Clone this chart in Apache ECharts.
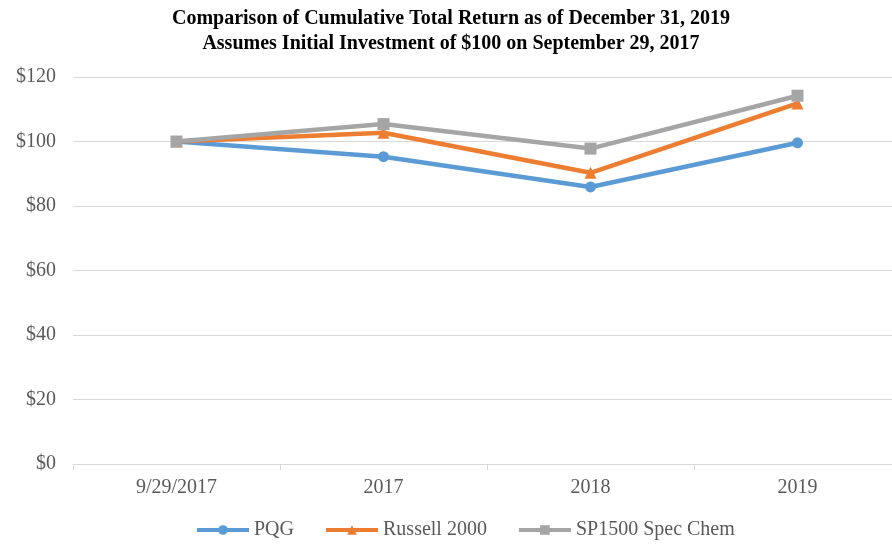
<!DOCTYPE html>
<html>
<head>
<meta charset="utf-8">
<script src="https://cdn.jsdelivr.net/npm/echarts@6/dist/echarts.min.js"></script>
<style>
  html, body { margin: 0; padding: 0; background: #fff; overflow: hidden; }
  #main { width: 902px; height: 546px; }
</style>
</head>
<body>
<div id="main"></div>
<script>
var categories = ["9/29/2017", "2017", "2018", "2019"];
var pqg = [100, 95.3, 85.9, 99.6];
var russell = [100, 102.7, 90.3, 111.8];
var spChem = [100, 105.4, 97.8, 114.2];

var serif = "'Liberation Serif', 'Times New Roman', serif";

// chart area runs past the right edge of the window, as in the original
var chart = echarts.init(document.getElementById("main"));
chart.setOption({
  backgroundColor: "#fff",
  animation: false,
  textStyle: { fontFamily: serif },
  title: {
    text: "Comparison of Cumulative Total Return as of December 31, 2019\nAssumes Initial Investment of $100 on September 29, 2017",
    left: 446,
    textAlign: "center",
    top: 1,
    textStyle: { fontFamily: serif, fontWeight: "bold", fontSize: 20, lineHeight: 25, color: "#000" }
  },
  grid: { left: 73, top: 77, right: 1, height: 387 },
  legend: {
    bottom: 1,
    left: 190,
    itemWidth: 52,
    itemHeight: 12,
    itemGap: 30,
    lineStyle: { width: 4 },
    textStyle: { fontFamily: serif, fontSize: 20, color: "#595959" },
    data: ["PQG", "Russell 2000", "SP1500 Spec Chem"]
  },
  xAxis: {
    type: "category",
    data: categories,
    boundaryGap: true,
    axisLine: { lineStyle: { color: "#d9d9d9" } },
    axisTick: { show: true, lineStyle: { color: "#d9d9d9" }, length: 6 },
    axisLabel: { fontFamily: serif, fontSize: 20, color: "#595959", margin: 14 }
  },
  yAxis: {
    type: "value",
    min: 0,
    max: 120,
    interval: 20,
    axisLine: { show: false },
    axisTick: { show: false },
    splitLine: { lineStyle: { color: "#d9d9d9" } },
    axisLabel: { fontFamily: serif, fontSize: 20, color: "#595959", margin: 17, formatter: "${value}" }
  },
  series: [
    {
      name: "PQG", type: "line", data: pqg, z: 3,
      symbol: "circle", symbolSize: 11,
      lineStyle: { width: 4.5, color: "#5B9BD5" },
      itemStyle: { color: "#5B9BD5" }
    },
    {
      name: "Russell 2000", type: "line", data: russell, z: 4,
      symbol: "triangle", symbolSize: 12,
      lineStyle: { width: 4.5, color: "#ED7D31" },
      itemStyle: { color: "#ED7D31" }
    },
    {
      name: "SP1500 Spec Chem", type: "line", data: spChem, z: 5,
      symbol: "rect", symbolSize: 12,
      lineStyle: { width: 4.5, color: "#A5A5A5" },
      itemStyle: { color: "#A5A5A5" }
    }
  ]
});
</script>
</body>
</html>
